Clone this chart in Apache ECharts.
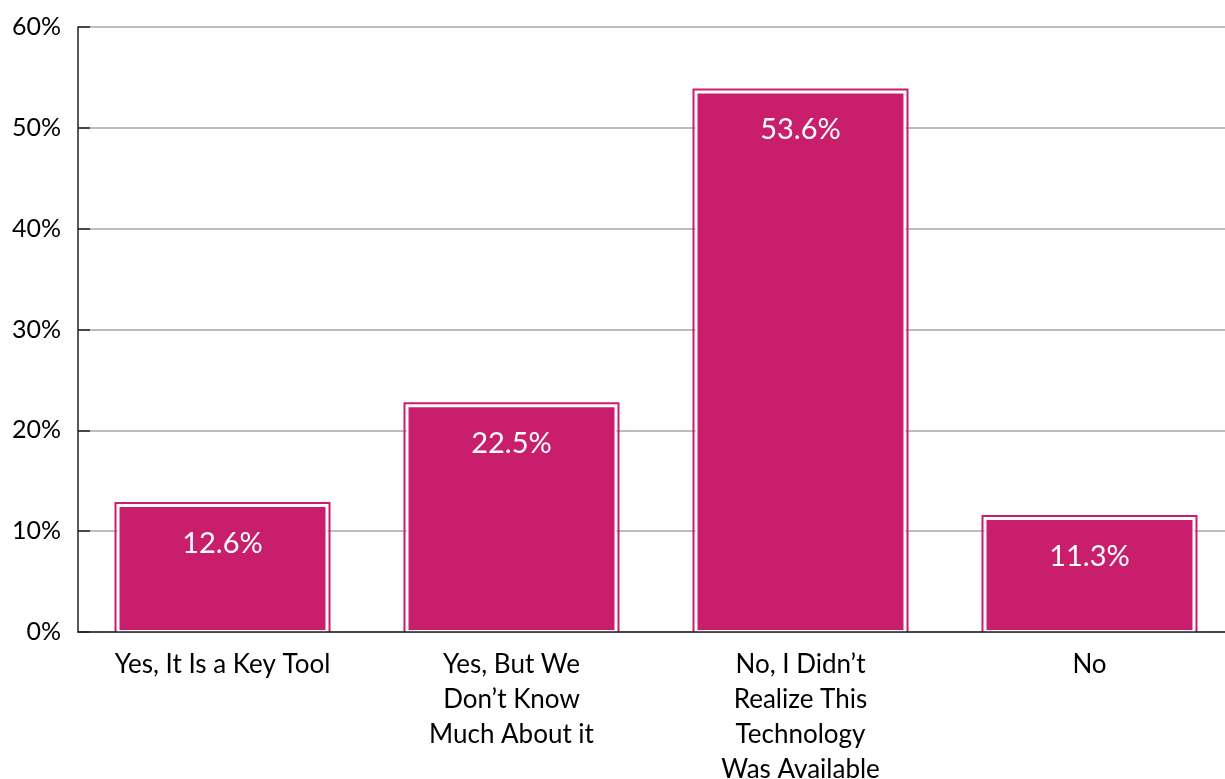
<!DOCTYPE html>
<html>
<head>
<meta charset="utf-8">
<script src="https://cdn.jsdelivr.net/npm/echarts@6/dist/echarts.min.js"></script>
<style>
  html, body { margin: 0; padding: 0; background: #fff; }
  #chart { width: 1225px; height: 779px; }
</style>
</head>
<body>
<div id="chart"></div>
<script>
// Survey responses: share of respondents per answer
const categories = [
  'Yes, It Is a Key Tool',
  'Yes, But We\nDon\u2019t Know\nMuch About it',
  'No, I Didn\u2019t\nRealize This\nTechnology\nWas Available',
  'No'
];
const shares = [12.6, 22.5, 53.6, 11.3];
const yTicks = [0, 10, 20, 30, 40, 50, 60];

const barColor = '#C91E6C';
const font = 'Lato, "Open Sans", sans-serif';
const BAR_W = 210;

const chart = echarts.init(document.getElementById('chart'));
chart.setOption({
  animation: false,
  grid: {
    left: 78, top: 27, width: 1156, height: 605,
    containLabel: false, outerBoundsMode: 'none'
  },
  xAxis: {
    type: 'category',
    data: categories,
    axisLine: { lineStyle: { color: '#222', width: 1.5 } },
    axisTick: { show: false },
    axisLabel: {
      color: '#000', fontFamily: font, fontSize: 26, lineHeight: 35,
      margin: 15, interval: 0
    },
    z: 5
  },
  yAxis: {
    type: 'value',
    min: yTicks[0], max: yTicks[yTicks.length - 1], interval: 10,
    axisLine: { show: true, lineStyle: { color: '#222', width: 1.5 } },
    axisTick: { show: true, inside: true, length: 12, lineStyle: { color: '#222', width: 1.5 } },
    splitLine: { lineStyle: { color: '#A6A6A6', width: 1.5 } },
    axisLabel: {
      color: '#000', fontFamily: font, fontSize: 25, margin: 17,
      formatter: v => v + '%'
    }
  },
  series: [
    {
      // thin outline drawn just outside each bar
      type: 'custom',
      silent: true,
      data: shares.map((v, i) => [i, v]),
      renderItem: (params, api) => {
        const top = api.coord([api.value(0), api.value(1)]);
        const base = api.coord([api.value(0), 0]);
        const half = BAR_W / 2 + 2;
        const y = top[1] - 2;
        return {
          type: 'polyline',
          shape: { points: [[top[0] - half, base[1]], [top[0] - half, y], [top[0] + half, y], [top[0] + half, base[1]]] },
          style: { fill: null, stroke: barColor, lineWidth: 2 }
        };
      },
      z: 1
    },
    {
      type: 'bar',
      data: shares,
      barWidth: BAR_W,
      itemStyle: { color: barColor, borderColor: '#fff', borderWidth: 2 },
      label: {
        show: true, position: 'insideTop', distance: 24,
        color: '#fff', fontFamily: font, fontSize: 29,
        formatter: p => p.value.toFixed(1) + '%'
      },
      z: 2
    }
  ]
});
</script>
</body>
</html>
